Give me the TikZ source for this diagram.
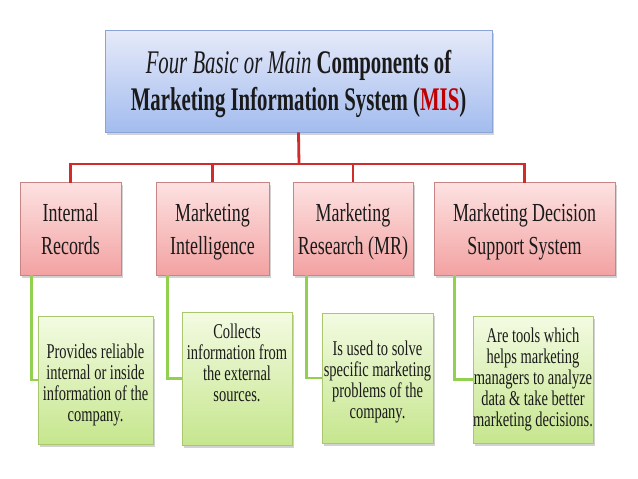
\documentclass[tikz,border=0pt]{standalone}
\usepackage{fontspec}
\setmainfont{Liberation Serif}
\newfontfamily\titlefont[FakeStretch=0.63]{Liberation Serif}
\newfontfamily\boxfont[FakeStretch=0.69]{Liberation Serif}
\newfontfamily\descfont[FakeStretch=0.69]{Liberation Serif}
\usetikzlibrary{shadows}
\definecolor{titletop}{HTML}{E6EAF9}
\definecolor{titlebot}{HTML}{A3BCEE}
\definecolor{titleline}{HTML}{8AA4D8}
\definecolor{redtop}{HTML}{FDE2E2}
\definecolor{redbot}{HTML}{F3A2A2}
\definecolor{redline}{HTML}{C98585}
\definecolor{greentop}{HTML}{F3FBE2}
\definecolor{greenbot}{HTML}{C6E68E}
\definecolor{greenline}{HTML}{A9C86E}
\definecolor{redconn}{HTML}{D02C2C}
\definecolor{greenconn}{HTML}{92D050}
\definecolor{misred}{HTML}{C00000}
\definecolor{txt}{HTML}{1A1A1A}
\tikzset{
  boxshadow/.style={drop shadow={opacity=0.35,shadow xshift=2pt,shadow yshift=-2.5pt}},
  % #1: total height above the last baseline, #2: depth below it
  struts/.style 2 args={execute at begin node={\rule{0pt}{#1}},
                        execute at end node={\rule[-#2]{0pt}{#2}}},
  titlebox/.style={rectangle,draw=titleline,line width=0.8pt,top color=titletop,bottom color=titlebot,
    boxshadow,align=center,inner sep=0pt,text=txt,font=\titlefont\fontsize{33}{37}\selectfont,
    struts={66pt}{8pt}},
  compbox/.style={rectangle,draw=redline,line width=0.8pt,top color=redtop,bottom color=redbot,
    boxshadow,align=center,inner sep=0pt,text=txt,minimum height=93pt,
    font=\boxfont\fontsize{26}{33}\selectfont,struts={57pt}{6pt}},
  descbox/.style={rectangle,draw=greenline,line width=0.8pt,top color=greentop,bottom color=greenbot,
    boxshadow,align=center,inner sep=0pt,text=txt,font=\descfont\fontsize{21}{21}\selectfont},
  redlink/.style={draw=redconn,line width=2.8pt},
  greenlink/.style={draw=greenconn,line width=2.8pt}
}
\begin{document}
\begin{tikzpicture}[x=1pt,y=-1pt]
\useasboundingbox[fill=white] (0,0) rectangle (638,479);
% title
\node[titlebox,minimum width=387pt,minimum height=102pt] (title) at (298.5,81)
  {{\itshape Four Basic or Main} {\bfseries Components of}\\
   {\bfseries Marketing Information System (\textcolor{misred}{MIS})}};
% components
\node[compbox,minimum width=101pt] (ir) at (70.5,228.5) {Internal\\Records};
\node[compbox,minimum width=113pt] (mi) at (212.5,228.5) {Marketing\\Intelligence};
\node[compbox,minimum width=120pt] (mr) at (353,228.5) {Marketing\\Research (MR)};
\node[compbox,minimum width=181pt] (md) at (524.5,228.5) {Marketing Decision\\Support System};
% descriptions
\node[descbox,struts={87.5pt}{5pt},minimum width=115pt,minimum height=128pt] (g1) at (95.5,380) {Provides reliable\\internal or inside\\information of the\\company.};
\node[descbox,struts={0pt}{31pt},minimum width=110pt,minimum height=133pt] (g2) at (237,378.5) {Collects\\information from\\the external\\sources.};
\node[descbox,struts={85.5pt}{5pt},minimum width=111pt,minimum height=130pt] (g3) at (377.5,378) {Is used to solve\\specific marketing\\problems of the\\company.};
\node[descbox,struts={0pt}{5pt},minimum width=120pt,minimum height=127pt] (g4) at (533,379.5) {Are tools which\\helps marketing\\managers to analyze\\data \& take better\\marketing decisions.};
% red connectors
\coordinate (bus) at (299,164);
\draw[redlink] (title.south) -- (bus);
\draw[redlink,line cap=rect] (bus) -| (ir.north);
\draw[redlink] (bus) -| (mi.north);
\draw[redlink] (bus) -| (mr.north);
\draw[redlink,line cap=rect] (bus) -| (md.north);
% green connectors
\draw[greenlink] ([xshift=12pt]ir.south west) |- (g1.west);
\draw[greenlink] ([xshift=12pt]mi.south west) |- (g2.west);
\draw[greenlink] ([xshift=14pt]mr.south west) |- (g3.west);
\draw[greenlink] ([xshift=21pt]md.south west) |- (g4.west);
\end{tikzpicture}
\end{document}
